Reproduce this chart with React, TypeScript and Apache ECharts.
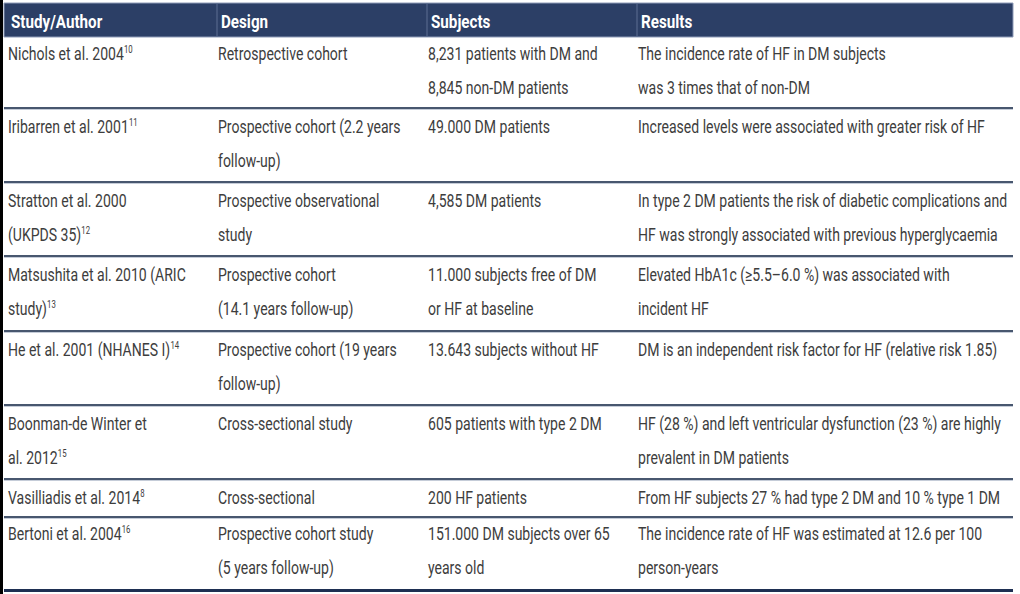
import React, { useEffect, useRef } from "react";
import * as echarts from "echarts";

const headers = ["Study/Author", "Design", "Subjects", "Results"];

// "^" marks a superscript reference number
const studyAuthor = [
  ["Nichols et al. 2004^10"],
  ["Iribarren et al. 2001^11"],
  ["Stratton et al. 2000", "(UKPDS 35)^12"],
  ["Matsushita et al. 2010 (ARIC", "study)^13"],
  ["He et al. 2001 (NHANES I)^14"],
  ["Boonman-de Winter et", "al. 2012^15"],
  ["Vasilliadis et al. 2014^8"],
  ["Bertoni et al. 2004^16"],
];

const designs = [
  ["Retrospective cohort"],
  ["Prospective cohort (2.2 years", "follow-up)"],
  ["Prospective observational", "study"],
  ["Prospective cohort", "(14.1 years follow-up)"],
  ["Prospective cohort (19 years", "follow-up)"],
  ["Cross-sectional study"],
  ["Cross-sectional"],
  ["Prospective cohort study", "(5 years follow-up)"],
];

const subjects = [
  ["8,231 patients with DM and", "8,845 non-DM patients"],
  ["49.000 DM patients"],
  ["4,585 DM patients"],
  ["11.000 subjects free of DM", "or HF at baseline"],
  ["13.643 subjects without HF"],
  ["605 patients with type 2 DM"],
  ["200 HF patients"],
  ["151.000 DM subjects over 65", "years old"],
];

const results = [
  ["The incidence rate of HF in DM subjects", "was 3 times that of non-DM"],
  ["Increased levels were associated with greater risk of HF"],
  ["In type 2 DM patients the risk of diabetic complications and", "HF was strongly associated with previous hyperglycaemia"],
  ["Elevated HbA1c (≥5.5–6.0 %) was associated with", "incident HF"],
  ["DM is an independent risk factor for HF (relative risk 1.85)"],
  ["HF (28 %) and left ventricular dysfunction (23 %) are highly", "prevalent in DM patients"],
  ["From HF subjects 27 % had type 2 DM and 10 % type 1 DM"],
  ["The incidence rate of HF was estimated at 12.6 per 100", "person-years"],
];

const columns = [studyAuthor, designs, subjects, results];

// layout
const W = 1020;
const H = 594;
const tableLeft = 4;
const tableRight = 1013;
const headerTop = 3;
const headerH = 34;
const colX = [8, 218, 428, 638];
const sepX = [217, 427, 637];
const rowBounds = [37, 108, 182, 256, 331, 405, 479, 517, 590];
const FONT = "Roboto, 'Noto Sans', sans-serif";
const FS = 18;
const SX = 0.78;
const textColor = "#3d3d3d";

function toRich(s: string) {
  const i = s.indexOf("^");
  if (i < 0) return s;
  return s.slice(0, i) + "{sup|" + s.slice(i + 1) + "}";
}

export default function App() {
  const ref = useRef<HTMLDivElement>(null);
  useEffect(() => {
    document.body.style.margin = "0";
    const chart = echarts.init(ref.current!, null, { renderer: "svg" });
    const elements: any[] = [];
    elements.push({ type: "rect", shape: { x: 0, y: 0, width: W, height: H }, style: { fill: "#ffffff" } });
    elements.push({ type: "rect", shape: { x: 0, y: 0, width: 3, height: H }, style: { fill: "#000000" } });
    // header
    elements.push({
      type: "rect",
      shape: { x: tableLeft, y: headerTop, width: tableRight - tableLeft, height: headerH },
      style: { fill: "#2c3f66", stroke: "#8e9cb8", lineWidth: 1 },
    });
    sepX.forEach((x) =>
      elements.push({
        type: "line",
        shape: { x1: x, y1: headerTop, x2: x, y2: headerTop + headerH },
        style: { stroke: "#5d6e92", lineWidth: 1 },
      })
    );
    headers.forEach((h, i) =>
      elements.push({
        type: "text",
        x: colX[i] + 3,
        y: headerTop + headerH / 2 + 1,
        scaleX: 0.8,
        style: {
          text: h,
          fill: "#ffffff",
          font: `bold ${FS + 1}px ${FONT}`,
          verticalAlign: "middle",
          align: "left",
        },
      })
    );
    // rows
    const nRows = studyAuthor.length;
    for (let r = 0; r < nRows; r++) {
      const top = rowBounds[r];
      columns.forEach((col, c) => {
        col[r].forEach((line, li) => {
          elements.push({
            type: "text",
            x: colX[c],
            y: top + (r === 0 || r === nRows - 1 ? 17 : 19) + li * 34,
            scaleX: SX,
            style: {
              text: toRich(line),
              fill: textColor,
              font: `${FS}px ${FONT}`,
              verticalAlign: "middle",
              align: "left",
              rich: { sup: { fontSize: 10, fill: textColor, fontFamily: FONT, verticalAlign: "top" } },
            },
          });
        });
      });
      const bottom = rowBounds[r + 1];
      const isLast = r === nRows - 1;
      if (!isLast) {
        elements.push({
          type: "rect",
          shape: { x: tableLeft, y: bottom - 1, width: tableRight - tableLeft, height: 2 },
          style: { fill: "#48576f" },
        });
        elements.push({
          type: "line",
          shape: { x1: tableLeft, y1: bottom + 1.5, x2: tableRight, y2: bottom + 1.5 },
          style: { stroke: "#c5ccd8", lineWidth: 1 },
        });
      } else {
        elements.push({
          type: "rect",
          shape: { x: tableLeft, y: bottom - 1, width: tableRight - tableLeft, height: 3 },
          style: { fill: "#1e2f52" },
        });
      }
    }
    chart.setOption({ animation: false, graphic: { elements } });
    return () => chart.dispose();
  }, []);
  return <div ref={ref} style={{ position: "absolute", left: 0, top: 0, width: W, height: H }} />;
}
